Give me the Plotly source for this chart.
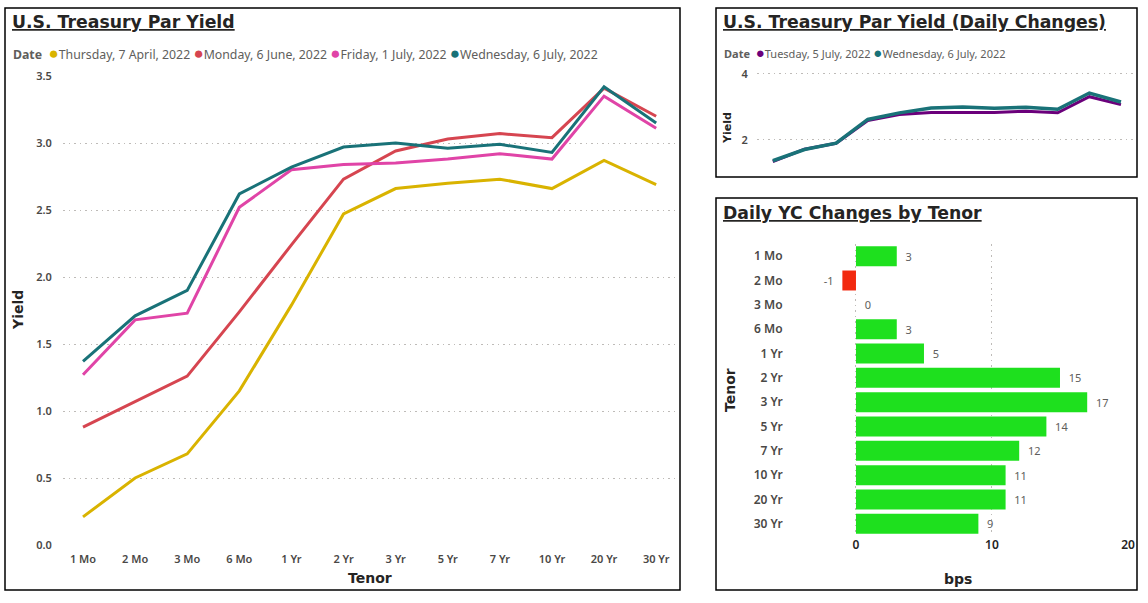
import plotly.graph_objects as go

W, H = 1148, 603

tenors = ["1 Mo", "2 Mo", "3 Mo", "6 Mo", "1 Yr", "2 Yr", "3 Yr", "5 Yr", "7 Yr", "10 Yr", "20 Yr", "30 Yr"]

apr07 = [0.21, 0.50, 0.68, 1.15, 1.79, 2.47, 2.66, 2.70, 2.73, 2.66, 2.87, 2.69]
jun06 = [0.88, 1.07, 1.26, 1.74, 2.24, 2.73, 2.94, 3.03, 3.07, 3.04, 3.41, 3.20]
jul01 = [1.27, 1.68, 1.73, 2.52, 2.80, 2.84, 2.85, 2.88, 2.92, 2.88, 3.35, 3.11]
jul05 = [1.34, 1.72, 1.90, 2.59, 2.77, 2.83, 2.83, 2.83, 2.87, 2.82, 3.31, 3.07]
jul06 = [1.37, 1.71, 1.90, 2.62, 2.82, 2.97, 3.00, 2.96, 2.99, 2.93, 3.42, 3.15]
changes_bps = [3, -1, 0, 3, 5, 15, 17, 14, 12, 11, 11, 9]

C_YEL, C_RED, C_PINK, C_TEAL, C_PURP = "#D9B300", "#D64550", "#E044A7", "#197278", "#6B007B"
C_UP, C_DN = "#1EE01E", "#F2290F"
GRID = "#BEBBB8"
GDASH = "1.5px,4px"
TXT = "#605E5C"
TICK = "#4A4846"
FONT = "Noto Sans"
TFONT = "DejaVu Sans"


def px(x):
    return x / W


def py(y):
    return 1 - y / H


fig = go.Figure()

# Left chart
for name, vals, col in [("Thursday, 7 April, 2022", apr07, C_YEL),
                        ("Monday, 6 June, 2022", jun06, C_RED),
                        ("Friday, 1 July, 2022", jul01, C_PINK),
                        ("Wednesday, 6 July, 2022", jul06, C_TEAL)]:
    fig.add_trace(go.Scatter(x=tenors, y=vals, mode="lines", name=name,
                             line=dict(color=col, width=3), xaxis="x", yaxis="y"))

# Top-right chart
fig.add_trace(go.Scatter(x=tenors, y=jul05, mode="lines", name="Tuesday, 5 July, 2022",
                         line=dict(color=C_PURP, width=3), xaxis="x2", yaxis="y2"))
fig.add_trace(go.Scatter(x=tenors, y=jul06, mode="lines", name="Wednesday, 6 July, 2022",
                         line=dict(color=C_TEAL, width=3.5), xaxis="x2", yaxis="y2"))

# Bottom-right bars
labels = [("  " + str(v)) if v >= 0 else (str(v) + "  ") for v in changes_bps]
fig.add_trace(go.Bar(x=changes_bps, y=tenors, orientation="h",
                     marker=dict(color=[C_UP if v >= 0 else C_DN for v in changes_bps], line=dict(width=0)),
                     width=0.82, text=labels, textposition="outside",
                     textfont=dict(family=FONT, size=11, color=TXT), cliponaxis=False,
                     xaxis="x3", yaxis="y3"))

tickfont = dict(family=FONT, size=11, color=TICK, weight=600)

fig.update_layout(
    width=W, height=H, autosize=False,
    margin=dict(l=0, r=0, t=0, b=0, pad=0, autoexpand=False),
    paper_bgcolor="white", plot_bgcolor="white", showlegend=False,
    xaxis=dict(domain=[px(63), px(677)], range=[-0.384, 11.40], type="category",
               showgrid=False, showline=False, zeroline=False, tickfont=tickfont,
               ticks="outside", ticklen=4, tickcolor="rgba(0,0,0,0)"),
    yaxis=dict(domain=[py(545), py(76)], range=[0, 3.5], dtick=0.5, tickformat=".1f",
               showgrid=True, gridcolor=GRID, griddash=GDASH, gridwidth=1, zeroline=False,
               showline=False, tickfont=tickfont, ticks="outside", ticklen=8, tickcolor="rgba(0,0,0,0)"),
    xaxis2=dict(domain=[px(757), px(1133)], range=[-0.5, 11.38], type="category",
                showgrid=False, showline=False, zeroline=False, showticklabels=False, anchor="y2"),
    yaxis2=dict(domain=[py(168), py(62)], range=[1.15, 4.36], tickvals=[2, 4],
                showgrid=True, gridcolor=GRID, griddash=GDASH, zeroline=False, showline=False,
                tickfont=dict(family=FONT, size=11, color=TICK, weight=600), anchor="x2",
                ticks="outside", ticklen=6, tickcolor="rgba(0,0,0,0)"),
    xaxis3=dict(domain=[px(790), px(1128)], range=[-4.85, 20], tickvals=[0, 10, 20],
                showgrid=True, gridcolor=GRID, griddash=GDASH, zeroline=False, showline=False,
                tickfont=dict(family=FONT, size=12, color="#252423", weight=600), anchor="y3"),
    yaxis3=dict(domain=[py(536), py(244)], type="category", autorange="reversed",
                showgrid=False, zeroline=False, showline=False, anchor="x3",
                tickfont=dict(family=FONT, size=12, color=TICK, weight=600), ticks="outside", ticklen=4,
                tickcolor="rgba(0,0,0,0)"),
    bargap=0.18,
)

# Panel borders
for x0, y0, x1, y1 in [(5, 8, 680, 590), (716, 8, 1137, 177), (716, 198, 1137, 590)]:
    fig.add_shape(type="rect", xref="paper", yref="paper", x0=px(x0), y0=py(y0), x1=px(x1), y1=py(y1),
                  line=dict(color="black", width=1.5), fillcolor="rgba(0,0,0,0)", layer="above")

ann = []


def title(text, x, y, size=17.3):
    ann.append(dict(text="<b>" + text + "</b>", x=px(x), y=py(y), xref="paper", yref="paper",
                    xanchor="left", yanchor="middle", showarrow=False,
                    font=dict(family=TFONT, size=size, color="#252423", lineposition="under")))


title("U.S. Treasury Par Yield", 10, 22)
title("U.S. Treasury Par Yield (Daily Changes)", 721, 22)
title("Daily YC Changes by Tenor", 721, 213)


def legend(items, x, y, size, dot):
    parts = ["<b>Date</b>  "]
    for lab, col in items:
        parts.append("<span style='color:%s;font-size:%dpx'>●</span><span style='color:%s'>%s</span> "
                     % (col, dot, TXT, lab))
    ann.append(dict(text="".join(parts), x=px(x), y=py(y), xref="paper", yref="paper",
                    xanchor="left", yanchor="middle", showarrow=False,
                    font=dict(family=FONT, size=size, color=TXT)))


legend([("Thursday, 7 April, 2022", C_YEL), ("Monday, 6 June, 2022", C_RED),
        ("Friday, 1 July, 2022", C_PINK), ("Wednesday, 6 July, 2022", C_TEAL)], 11, 52, 12.3, 17)
legend([("Tuesday, 5 July, 2022", C_PURP), ("Wednesday, 6 July, 2022", C_TEAL)], 722, 52, 11, 15)


def axtitle(text, x, y, angle=0, size=14):
    ann.append(dict(text="<b>" + text + "</b>", x=px(x), y=py(y), xref="paper", yref="paper",
                    xanchor="center", yanchor="middle", showarrow=False, textangle=angle,
                    font=dict(family=TFONT, size=size, color="#252423")))


axtitle("Yield", 18, 310, -90)
axtitle("Tenor", 370, 578)
axtitle("Yield", 727, 128, -90, 11)
axtitle("Tenor", 730, 390, -90)
axtitle("bps", 958, 579)

fig.update_layout(annotations=ann)
fig.write_html("out.html")
